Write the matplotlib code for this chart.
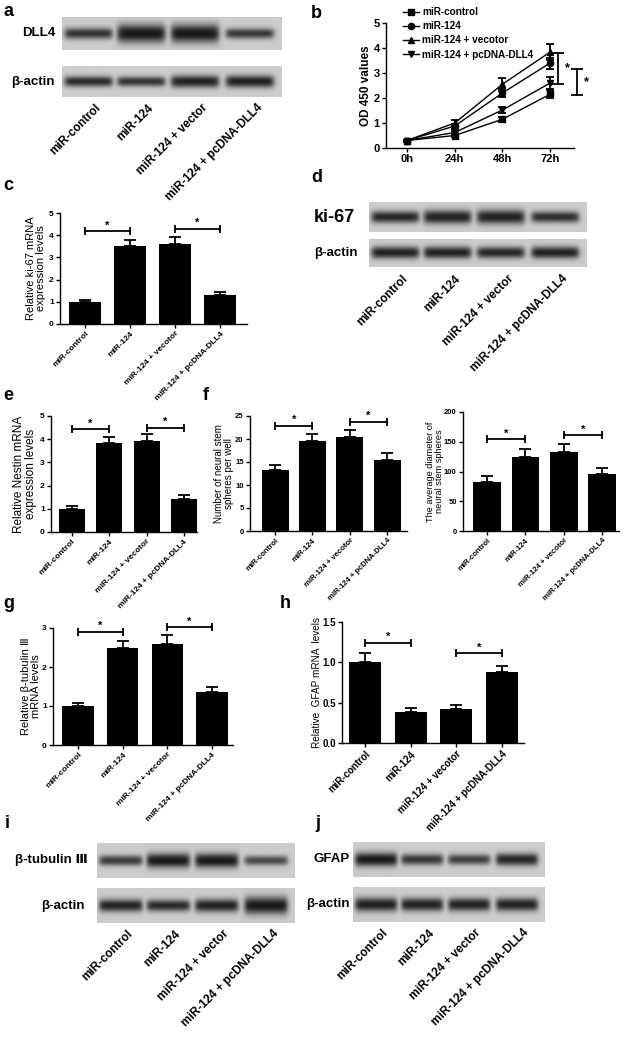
import numpy as np
import matplotlib
matplotlib.use("Agg")
import matplotlib.pyplot as plt

plt.rcParams['font.family'] = ['Liberation Sans', 'DejaVu Sans']
plt.rcParams['font.weight'] = 'bold'
plt.rcParams['axes.linewidth'] = 1.0

W, H = 626, 1039

# ---- data ----
groups = ["miR-control", "miR-124", "miR-124 + vecotor", "miR-124 + pcDNA-DLL4"]
blot_lanes = ["miR-control", "miR-124", "miR-124 + vector", "miR-124 + pcDNA-DLL4"]

time_points = ["0h", "24h", "48h", "72h"]
od_names = ["miR-control", "miR-124", "miR-124 + vecotor", "miR-124 + pcDNA-DLL4"]
od_control = [0.30, 0.50, 1.15, 2.15]
od_control_err = [0.04, 0.07, 0.11, 0.16]
od_mir124 = [0.30, 0.88, 2.20, 3.40]
od_mir124_err = [0.04, 0.10, 0.16, 0.22]
od_vector = [0.30, 1.00, 2.55, 3.84]
od_vector_err = [0.04, 0.13, 0.26, 0.32]
od_dll4 = [0.30, 0.62, 1.52, 2.60]
od_dll4_err = [0.04, 0.08, 0.12, 0.25]
od_sig = [(3.80, 2.55), (3.16, 2.13)]

ki67_mrna = [1.0, 3.50, 3.62, 1.30]
ki67_err = [0.10, 0.28, 0.32, 0.13]
ki67_sig = [4.17, 4.28]

nestin_mrna = [1.0, 3.82, 3.92, 1.42]
nestin_err = [0.11, 0.28, 0.32, 0.16]
nestin_sig = [4.42, 4.50]

sphere_num = [13.2, 19.6, 20.4, 15.4]
sphere_num_err = [1.1, 1.5, 1.5, 1.5]
sphere_num_sig = [22.9, 23.7]

sphere_diam = [83, 125, 133, 95]
sphere_diam_err = [9, 13, 14, 11]
sphere_diam_sig = [154, 161]

tubulin_mrna = [1.0, 2.48, 2.59, 1.35]
tubulin_err = [0.08, 0.19, 0.23, 0.13]
tubulin_sig = [2.91, 3.02]

gfap_mrna = [1.0, 0.39, 0.42, 0.875]
gfap_err = [0.12, 0.05, 0.045, 0.085]
gfap_sig = [1.24, 1.11]

# blot band intensity (0-1) and band thickness per lane
dll4_band = [0.85, 1.0, 1.0, 0.82]
dll4_thick = [0.17, 0.28, 0.28, 0.16]
actin_a = [0.9, 0.85, 0.95, 0.95]
actin_a_thick = [0.17, 0.16, 0.2, 0.2]
ki67_band = [0.92, 0.95, 0.95, 0.88]
ki67_thick = [0.2, 0.23, 0.24, 0.19]
actin_d = [0.95, 0.95, 0.92, 0.95]
actin_d_thick = [0.21, 0.21, 0.2, 0.21]
tub_band = [0.8, 1.0, 1.0, 0.72]
tub_thick = [0.15, 0.21, 0.21, 0.14]
actin_i = [0.95, 0.9, 0.95, 1.0]
actin_i_thick = [0.18, 0.17, 0.19, 0.25]
gfap_band = [1.0, 0.82, 0.78, 0.92]
gfap_thick = [0.2, 0.16, 0.15, 0.18]
actin_j = [0.97, 0.95, 0.95, 0.95]
actin_j_thick = [0.2, 0.19, 0.19, 0.19]

LANE_POS = np.array([0.48, 1.44, 2.42, 3.42])

fig = plt.figure(figsize=(W / 100, H / 100), dpi=100)


def px_axes(x0, y0, x1, y1):
    return fig.add_axes([x0 / W, 1 - y1 / H, (x1 - x0) / W, (y1 - y0) / H])


def letter(x, y, s):
    fig.text(x / W, 1 - y / H, s, fontsize=13, fontweight='bold', ha='left', va='center')


def blot_strip(rect, intens, thick, name, gap, fs=9.5):
    ax = px_axes(*rect)
    x = np.linspace(0, 4, 400)
    y = np.linspace(0, 1, 60)
    X, Y = np.meshgrid(x, y)
    dark = np.zeros_like(X)
    for c, a, t in zip(LANE_POS, intens, thick):
        hx = 1 / (1 + np.exp((np.abs(X - c) - 0.43) / 0.03))
        vy = np.exp(-np.abs((Y - 0.5) / t) ** 2.2)
        dark = np.maximum(dark, a * hx * vy)
    img = 0.80 - 0.70 * dark
    ax.imshow(img, cmap='gray', vmin=0, vmax=1, aspect='auto', extent=(0, 4, 0, 1))
    ax.set_xlim(0, 4)
    ax.set_ylim(0, 1)
    ax.set_xticks([])
    ax.set_yticks([])
    for s in ax.spines.values():
        s.set_visible(False)
    wpx = rect[2] - rect[0]
    ax.text(-gap / wpx, 0.5, name, transform=ax.transAxes, ha='right', va='center',
            fontsize=fs, fontweight='bold')
    return ax


def lane_labels(ax, labels, drop=5, fs=8.5):
    hpx = ax.get_position().height * H
    for c, lab in zip(LANE_POS, labels):
        ax.text(c + 0.12, -drop / hpx, lab, transform=ax.get_xaxis_transform(), rotation=45,
                ha='right', va='top', rotation_mode='anchor', fontsize=fs, fontweight='bold')


def style_axes(ax, tick_fs):
    for s in ['top', 'right']:
        ax.spines[s].set_visible(False)
    ax.tick_params(direction='out', length=3, width=1, labelsize=tick_fs, pad=1.5)
    plt.setp(ax.get_yticklabels(), fontweight='bold')
    plt.setp(ax.get_xticklabels(), fontweight='bold')


def bar_panel(rect, vals, errs, sig, ylim, yticks, xlim, ylabel, label_x, tick_fs,
              xt_fs, yl_fs, width=0.72, fmt=None, star_fs=8):
    ax = px_axes(*rect)
    xs = np.arange(len(vals))
    ax.bar(xs, vals, width=width, color='black', zorder=2)
    ax.errorbar(xs, vals, yerr=[np.zeros(len(errs)), errs], fmt='none', ecolor='black',
                elinewidth=1.3, capsize=4.5, capthick=1.3, zorder=3)
    for (i, j), y in zip([(0, 1), (2, 3)], sig):
        ax.plot([i, j], [y, y], color='black', lw=1.3, marker='|', markersize=6, mew=1.3,
                clip_on=False)
        ax.annotate('*', xy=((i + j) / 2, y), xytext=(0, 0.5), textcoords='offset points',
                    ha='center', va='bottom', fontsize=star_fs, fontweight='bold',
                    annotation_clip=False)
    ax.set_xlim(*xlim)
    ax.set_ylim(*ylim)
    ax.set_yticks(yticks)
    if fmt:
        ax.set_yticklabels([fmt % v for v in yticks])
    ax.set_xticks(xs)
    ax.set_xticklabels(groups, rotation=45, ha='right', rotation_mode='anchor', fontsize=xt_fs)
    style_axes(ax, tick_fs)
    ax.set_ylabel(ylabel, fontsize=yl_fs, fontweight='normal', ha='center', va='center',
                  linespacing=1.1)
    ax.yaxis.set_label_coords(-(rect[0] - label_x) / (rect[2] - rect[0]), 0.5)
    return ax


# ---- a ----
letter(3, 11, 'a')
ax_a = blot_strip((62, 17, 282, 50), dll4_band, dll4_thick, 'DLL4', 7)
ax_a2 = blot_strip((62, 66, 282, 97), actin_a, actin_a_thick, '\u03b2-actin', 7)
lane_labels(ax_a2, blot_lanes)

# ---- b ----
letter(311, 13, 'b')
ax_b = px_axes(386, 23, 574, 148)
xs = np.arange(len(time_points))
series = [(od_control, od_control_err, 's'), (od_mir124, od_mir124_err, 'o'),
          (od_vector, od_vector_err, '^'), (od_dll4, od_dll4_err, 'v')]
handles = []
for (v, e, m), nm in zip(series, od_names):
    ax_b.errorbar(xs, v, yerr=e, fmt='none', ecolor='black', elinewidth=1.3, capsize=3,
                  capthick=1.3)
    h, = ax_b.plot(xs, v, color='black', lw=1.0, marker=m, markersize=4.5, label=nm)
    handles.append(h)
for (y1, y2), bx in zip(od_sig, [3.17, 3.57]):
    ax_b.plot([bx, bx], [y1, y2], color='black', lw=1.3, marker='_', markersize=8, mew=1.3,
              clip_on=False)
    ax_b.text(bx + 0.13, (y1 + y2) / 2, '*', ha='left', va='center', fontsize=9,
              fontweight='bold', clip_on=False)
ax_b.set_xlim(-0.44, 3.5)
ax_b.set_ylim(0, 5)
ax_b.set_yticks(range(6))
ax_b.set_xticks(xs)
ax_b.set_xticklabels(time_points)
style_axes(ax_b, 8)
ax_b.set_ylabel('OD 450 values', fontsize=8.5, fontweight='bold', ha='center', va='center')
ax_b.yaxis.set_label_coords(-(386 - 366) / 188, 0.5)
fig.legend(handles=handles, loc='upper left', bbox_to_anchor=(396 / W, 1 - 0 / H),
           frameon=False, prop={'size': 7.2, 'weight': 'bold'}, handlelength=1.6,
           handletextpad=0.35, labelspacing=0.42, borderpad=0.2)

# ---- c ----
letter(3, 185, 'c')
bar_panel((60, 213, 247, 324), ki67_mrna, ki67_err, ki67_sig, (0, 5), range(6),
          (-0.56, 3.6), 'Relative ki-67 mRNA\nexpression levels', 36, 6, 5.5, 8, width=0.71)

# ---- d ----
letter(311, 178, 'd')
blot_strip((369, 202, 587, 232), ki67_band, ki67_thick, 'ki-67', 14, fs=13)
ax_d2 = blot_strip((369, 239, 587, 267), actin_d, actin_d_thick, '\u03b2-actin', 11)
lane_labels(ax_d2, blot_lanes, drop=6)

# ---- e ----
letter(3, 396, 'e')
bar_panel((51, 416, 197, 532), nestin_mrna, nestin_err, nestin_sig, (0, 5), range(6),
          (-0.56, 3.35), 'Relative Nestin mRNA\nexpression levels', 25, 6, 6, 8.5, width=0.7)

# ---- f ----
letter(203, 395, 'f')
bar_panel((250, 416, 407, 531), sphere_num, sphere_num_err, sphere_num_sig, (0, 25),
          range(0, 26, 5), (-0.67, 3.53), 'Number of neural stem\nspheres per well', 224, 5.5,
          5, 7.0, width=0.72)
bar_panel((463, 412, 619, 531), sphere_diam, sphere_diam_err, sphere_diam_sig, (0, 200),
          range(0, 201, 50), (-0.63, 3.44), 'The average diameter of\nneural stem spheres', 435,
          5.5, 5, 6.6, width=0.72)

# ---- g ----
letter(3, 604, 'g')
bar_panel((53, 628, 233, 745), tubulin_mrna, tubulin_err, tubulin_sig, (0, 3), range(4),
          (-0.56, 3.47), 'Relative \u03b2-tubulin \u2162\nmRNA levels', 31, 6, 5.5, 8,
          width=0.7)

# ---- h ----
letter(280, 604, 'h')
bar_panel((342, 622, 524, 743), gfap_mrna, gfap_err, gfap_sig, (0, 1.5), [0, 0.5, 1.0, 1.5],
          (-0.5, 3.48), 'Relative  GFAP mRNA  levels', 317, 7, 5.8, 7.2, width=0.7,
          fmt='%.1f')

# ---- i ----
letter(5, 823, 'i')
blot_strip((97, 843, 295, 878), tub_band, tub_thick, '\u03b2-tubulin \u2162', 9)
ax_i2 = blot_strip((97, 888, 295, 923), actin_i, actin_i_thick, '\u03b2-actin', 12)
lane_labels(ax_i2, blot_lanes)

# ---- j ----
letter(315, 823, 'j')
blot_strip((353, 842, 545, 877), gfap_band, gfap_thick, 'GFAP', 3)
ax_j2 = blot_strip((353, 887, 545, 922), actin_j, actin_j_thick, '\u03b2-actin', 3)
lane_labels(ax_j2, blot_lanes)

fig.savefig('out.png', dpi=100)
